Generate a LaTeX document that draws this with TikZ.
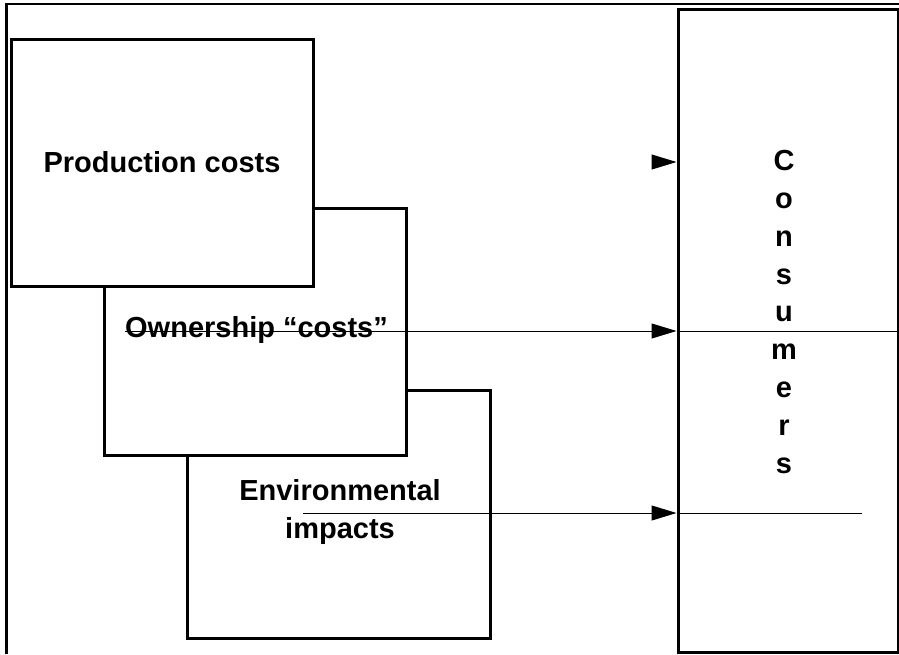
\documentclass[tikz,border=0pt]{standalone}
\usepackage{fontspec}
\setmainfont{Liberation Sans}
\usetikzlibrary{arrows.meta}
\tikzset{
  box/.style={draw=black, fill=white, line width=3pt, inner sep=0pt, font=\fontsize{29}{38}\selectfont\bfseries, align=center},
  flow/.style={draw=black, line width=1pt, -{Triangle[length=25pt,width=15pt]}},
  plain/.style={draw=black, line width=1pt},
  lbl/.style={font=\fontsize{29}{37.8}\selectfont\bfseries, align=center, inner sep=0pt}
}
\begin{document}
\begin{tikzpicture}[x=1pt,y=-1pt]
\useasboundingbox (0,0) rectangle (899,654);
% frame
\draw[line width=2.6pt] (6.5,654) -- (6.5,4) -- (899,4);
% boxes
\node[box, minimum width=303pt, minimum height=248pt] (env) at (338.5,514) {};
\node[lbl] (envt) at (340,512) {Environmental\\impacts};
\node[box, minimum width=302pt, minimum height=247pt] (own) at (255,331.5) {};
\node[lbl] (ownt) at (256.5,330) {Ownership “costs”};
\node[box, minimum width=302pt, minimum height=247pt] (prod) at (162,162.5) {Production costs};
\node[box, minimum width=220pt, minimum height=643pt] (cons) at (788,330.5) {};
\node[lbl] (const) at (784,312) {C\\o\\n\\s\\u\\m\\e\\r\\s};
% connectors
\coordinate (a1) at ([xshift=-25pt]cons.west |- 0,162);
\draw[flow] (a1) -- (cons.west |- a1);
\coordinate (a2) at (125,331);
\coordinate (e2) at (899,331);
\draw[flow] (a2) -- (cons.west |- a2);
\draw[plain] (cons.west |- a2) -- (e2);
\coordinate (a3) at (303,513);
\coordinate (e3) at (862,513);
\draw[flow] (a3) -- (cons.west |- a3);
\draw[plain] (cons.west |- a3) -- (e3);
\end{tikzpicture}
\end{document}
